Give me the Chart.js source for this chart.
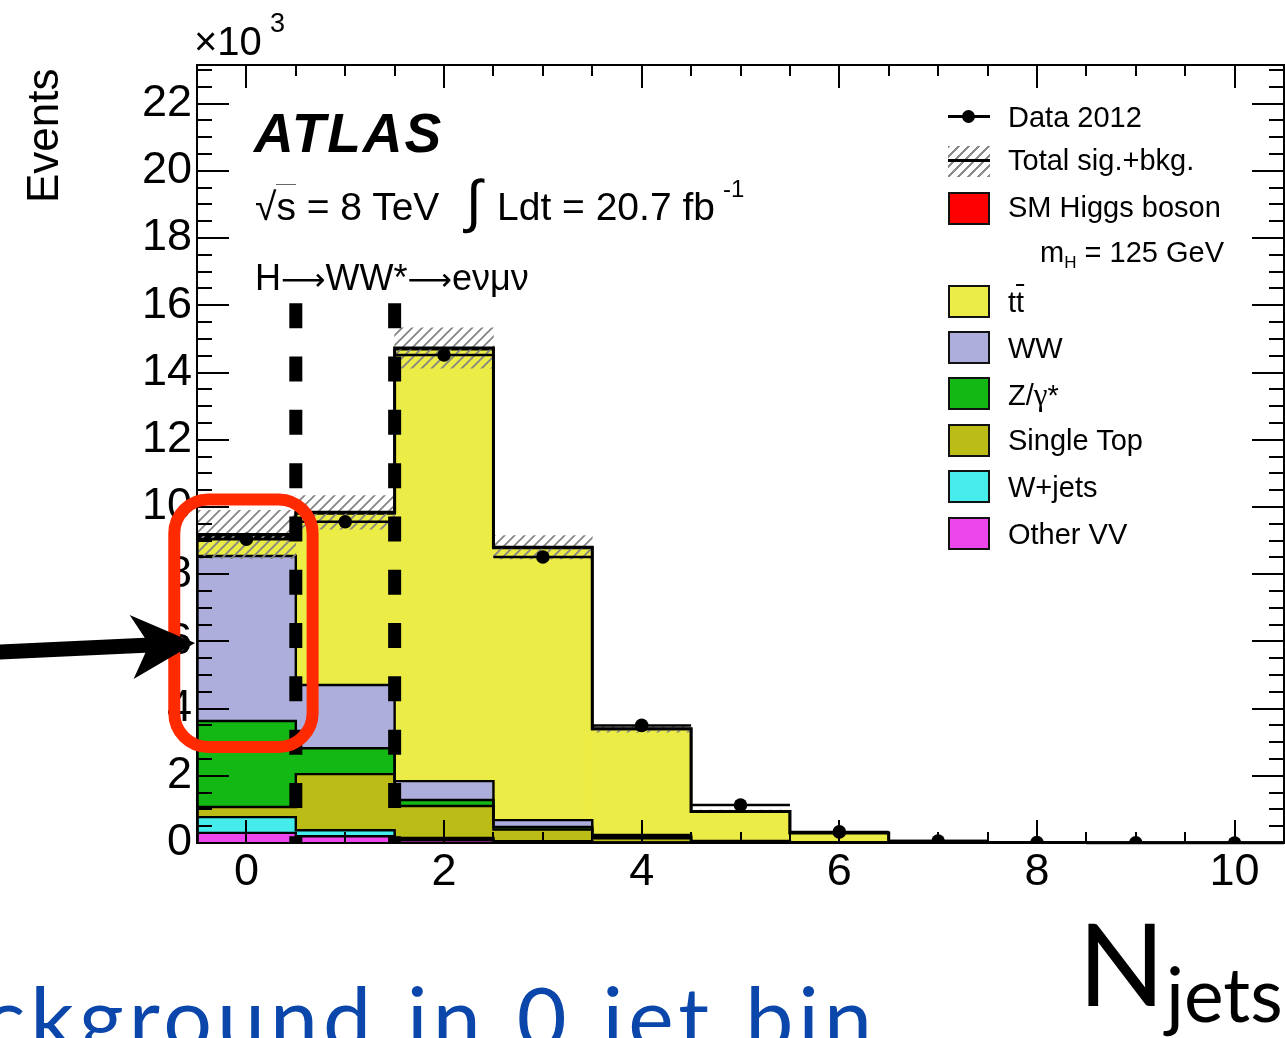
<!DOCTYPE html>
<html><head><meta charset="utf-8">
<script src="https://cdn.jsdelivr.net/npm/chart.js@4.4.1/dist/chart.umd.min.js"></script>
<style>
html,body{margin:0;padding:0;background:#fff;}
#wrap{position:relative;width:1285px;height:1038px;overflow:hidden;background:#fff;}
#c{position:absolute;left:0;top:0;}
.t{position:absolute;font-family:"Liberation Sans",Arial,Helvetica,sans-serif;color:#000;white-space:nowrap;line-height:1;}
.sw{position:absolute;box-sizing:border-box;border:2px solid #111;width:42px;height:33px;left:948px;}
.g{position:absolute;font-family:Lato,"Open Sans",sans-serif;white-space:nowrap;line-height:1;}
.ar{font-family:"DejaVu Sans",sans-serif;font-size:31px;}
</style></head><body>
<div id="wrap">
<canvas id="c" width="1285" height="1038"></canvas>

<div class="t" style="left:194px;top:21px;font-size:40px;">×10</div>
<div class="t" style="left:270px;top:10px;font-size:27px;">3</div>
<div class="t" style="left:21px;top:203px;font-size:44px;transform-origin:0 0;transform:rotate(-90deg);">Events</div>

<div class="t" style="left:254px;top:106px;font-size:55px;font-weight:bold;font-style:italic;letter-spacing:2px;">ATLAS</div>
<div class="t" style="left:255px;top:187px;font-size:39px;">√<span style="border-top:1.5px solid #666;">s</span> = 8 TeV</div>
<div class="t" style="left:466px;top:172px;font-size:58px;">∫</div>
<div class="t" style="left:497px;top:187px;font-size:39px;">Ldt = 20.7 fb</div>
<div class="t" style="left:723px;top:177px;font-size:24px;">-1</div>
<div class="t" style="left:255px;top:260px;font-size:36px;">H<span class="ar">⟶</span>WW*<span class="ar">⟶</span>eνμν</div>

<!-- legend -->
<div style="position:absolute;left:948px;top:115px;width:42px;height:3px;background:#000;"></div>
<div style="position:absolute;left:962px;top:110px;width:13px;height:13px;border-radius:50%;background:#000;"></div>
<div class="t" style="left:1008px;top:103px;font-size:29px;">Data 2012</div>
<div style="position:absolute;left:948px;top:146px;width:42px;height:31px;background:repeating-linear-gradient(135deg,#8a8a8a 0 2px,transparent 2px 7px);"></div>
<div style="position:absolute;left:948px;top:159px;width:42px;height:3px;background:#000;"></div>
<div class="t" style="left:1008px;top:146px;font-size:29px;">Total sig.+bkg.</div>
<div class="sw" style="top:192px;background:#ff0000;"></div>
<div class="t" style="left:1008px;top:193px;font-size:29px;">SM Higgs boson</div>
<div class="t" style="left:1040px;top:238px;font-size:29px;">m<sub style="font-size:17px;vertical-align:-6px;">H</sub> = 125 GeV</div>
<div class="sw" style="top:285px;background:#ecec46;"></div>
<div class="t" style="left:1008px;top:288px;font-size:29px;">t<span style="text-decoration:overline;">t</span></div>
<div class="sw" style="top:331px;background:#aeaedc;"></div>
<div class="t" style="left:1008px;top:334px;font-size:29px;">WW</div>
<div class="sw" style="top:377px;background:#14b814;"></div>
<div class="t" style="left:1008px;top:379px;font-size:29px;">Z/<span style="font-family:'Liberation Serif',serif;font-size:31px;">γ</span>*</div>
<div class="sw" style="top:424px;background:#bcbc16;"></div>
<div class="t" style="left:1008px;top:426px;font-size:29px;">Single Top</div>
<div class="sw" style="top:470px;background:#46ecec;"></div>
<div class="t" style="left:1008px;top:473px;font-size:29px;">W+jets</div>
<div class="sw" style="top:517px;background:#ec46ec;"></div>
<div class="t" style="left:1008px;top:520px;font-size:29px;">Other VV</div>

<!-- slide annotations -->
<div class="g" style="right:408px;top:973px;font-size:86px;color:#0b46aa;letter-spacing:5px;word-spacing:4px;">background in 0 jet bin</div>
<div class="g" style="left:1078px;top:905px;font-size:114px;color:#000;">N</div>
<div class="g" style="left:1166px;top:956px;font-size:75px;color:#000;">jets</div>
</div>

<script>
// Njets bins and axis ticks
const nJets = [0, 1, 2, 3, 4, 5, 6, 7, 8, 9, 10];
const xTickValues = [0, 2, 4, 6, 8, 10];
const yTickValues = [0, 2, 4, 6, 8, 10, 12, 14, 16, 18, 20, 22];
// Events, in units of 10^3
const dataObs   = [9.04, 9.56, 14.52, 8.51, 3.50, 1.13, 0.33, 0.06, 0.010, 0.003, 0.001];
const otherVV   = [0.30, 0.20, 0.08, 0.03, 0.01, 0.00, 0.00, 0, 0, 0, 0];
const wjets     = [0.47, 0.18, 0.07, 0.02, 0.01, 0.00, 0.00, 0, 0, 0, 0];
const singleTop = [0.30, 1.67, 0.95, 0.35, 0.12, 0.03, 0.01, 0, 0, 0, 0];
const zgamma    = [2.56, 0.77, 0.18, 0.08, 0.04, 0.01, 0.00, 0, 0, 0, 0];
const ww        = [4.91, 1.88, 0.56, 0.20, 0.06, 0.02, 0.01, 0, 0, 0, 0];
const ttbar     = [0.57, 5.10, 12.85, 8.10, 3.15, 0.88, 0.28, 0.05, 0.010, 0.002, 0.0005];
const higgs     = [0.07, 0.04, 0.04, 0.02, 0.01, 0.00, 0.00, 0, 0, 0, 0];
const totalUnc  = [0.72, 0.50, 0.60, 0.35, 0.10, 0.04, 0.02, 0.01, 0, 0, 0];

const FONT = '"Liberation Sans", Arial, Helvetica, sans-serif';

const components = [
  { label: 'Other VV', values: otherVV, color: '#ec46ec' },
  { label: 'W+jets', values: wjets, color: '#46ecec' },
  { label: 'Single Top', values: singleTop, color: '#bcbc16' },
  { label: 'Z/γ*', values: zgamma, color: '#14b814' },
  { label: 'WW', values: ww, color: '#aeaedc' },
  { label: 'tt̄', values: ttbar, color: '#ecec46' },
  { label: 'SM Higgs boson', values: higgs, color: '#ff0000' }
];

function stepPoints(top) {
  const pts = [{ x: nJets[0] - 0.5, y: 0 }];
  nJets.forEach((x, i) => pts.push({ x: x - 0.5, y: top[i] }));
  pts.push({ x: nJets[nJets.length - 1] + 0.5, y: top[top.length - 1] });
  return pts;
}

function hatchPattern() {
  const c = document.createElement('canvas');
  c.width = 10; c.height = 10;
  const g = c.getContext('2d');
  g.strokeStyle = '#858585'; g.lineWidth = 1.8;
  g.beginPath();
  g.moveTo(0, 10); g.lineTo(10, 0);
  g.moveTo(-5, 5); g.lineTo(5, -5);
  g.moveTo(5, 15); g.lineTo(15, 5);
  g.stroke();
  return document.getElementById('c').getContext('2d').createPattern(c, 'repeat');
}

const datasets = [];
let base = nJets.map(() => 0);
components.forEach((comp, ci) => {
  const top = base.map((b, i) => b + comp.values[i]);
  datasets.push({
    type: 'bar', label: comp.label,
    data: nJets.map((x, i) => ({ x: x, y: [base[i], top[i]] })),
    backgroundColor: comp.color, borderWidth: 0, grouped: false,
    barPercentage: 1, categoryPercentage: 1, order: 100
  });
  const isTotal = ci === components.length - 1;
  datasets.push({
    type: 'line', label: comp.label + ' outline',
    data: stepPoints(top), stepped: true,
    borderColor: '#000', borderWidth: isTotal ? 3 : 2.4,
    pointRadius: 0, fill: false, order: isTotal ? 40 : 60
  });
  base = top;
});
const total = base;
datasets.push({
  type: 'bar', label: 'Total sig.+bkg.',
  data: nJets.map((x, i) => ({ x: x, y: [total[i] - totalUnc[i], total[i] + totalUnc[i]] })),
  backgroundColor: hatchPattern(), borderWidth: 0, grouped: false,
  barPercentage: 1, categoryPercentage: 1, order: 50
});
datasets.push({
  type: 'scatter', label: 'Data 2012',
  data: nJets.map((x, i) => ({ x: x, y: dataObs[i] })),
  pointRadius: 6.8, pointBackgroundColor: '#000', pointBorderWidth: 0,
  showLine: false, order: 10
});

const axesPlugin = {
  id: 'axesPlugin',
  afterDatasetsDraw(chart) {
    const { ctx, chartArea: a, scales: { x, y } } = chart;
    ctx.save();
    // data horizontal bars (bin width)
    ctx.strokeStyle = '#000'; ctx.lineWidth = 2.5;
    nJets.forEach((v, i) => {
      const py = y.getPixelForValue(dataObs[i]);
      ctx.beginPath();
      ctx.moveTo(x.getPixelForValue(v - 0.5), py);
      ctx.lineTo(x.getPixelForValue(v + 0.5), py);
      ctx.stroke();
    });
    // frame
    ctx.lineWidth = 2;
    ctx.strokeRect(a.left, a.top, a.right - a.left, a.bottom - a.top);
    // inward ticks
    ctx.beginPath();
    for (let k = 0; k <= 22; k++) {
      const v = -0.5 + k * 0.5;
      const major = Math.abs(v % 2) < 1e-9;
      const len = major ? 23 : 11;
      const px = Math.round(x.getPixelForValue(v));
      ctx.moveTo(px, a.bottom); ctx.lineTo(px, a.bottom - len);
      ctx.moveTo(px, a.top); ctx.lineTo(px, a.top + len);
    }
    for (let k = 0; k <= 46; k++) {
      const v = k * 0.5;
      if (v > y.max) break;
      const major = Math.abs(v % 2) < 1e-9;
      const len = major ? 32 : 15;
      const py = Math.round(y.getPixelForValue(v));
      ctx.moveTo(a.left, py); ctx.lineTo(a.left + len, py);
      ctx.moveTo(a.right, py); ctx.lineTo(a.right - len, py);
    }
    ctx.stroke();
    ctx.restore();
  },
  afterDraw(chart) {
    const { ctx, chartArea: a, scales: { x, y } } = chart;
    ctx.save();
    // dashed vertical lines at the 0/1 and 1/2 jet bin edges
    ctx.strokeStyle = '#000'; ctx.lineWidth = 13; ctx.lineCap = 'butt';
    ctx.setLineDash([25, 28.3]);
    [0.5, 1.5].forEach(v => {
      const px = x.getPixelForValue(v);
      ctx.beginPath();
      ctx.moveTo(px, y.getPixelForValue(16.06));
      ctx.lineTo(px, a.bottom);
      ctx.stroke();
    });
    ctx.setLineDash([]);
    // red rounded box around the 0-jet bin
    const l = x.getPixelForValue(-0.73), r = x.getPixelForValue(0.67);
    const t = y.getPixelForValue(10.22), b = y.getPixelForValue(2.86);
    ctx.strokeStyle = '#ff2a00'; ctx.lineWidth = 12;
    ctx.beginPath();
    ctx.roundRect(l, t, r - l, b - t, 34);
    ctx.stroke();
    // arrow pointing at the WW component
    const tipX = x.getPixelForValue(-0.52), tipY = y.getPixelForValue(5.95);
    const ang = Math.atan2(-9, 195);
    ctx.translate(tipX, tipY); ctx.rotate(ang);
    ctx.fillStyle = '#000';
    ctx.beginPath();
    ctx.moveTo(0, 0);
    ctx.lineTo(-64, -31);
    ctx.lineTo(-50, -7.5);
    ctx.lineTo(-220, -7.5);
    ctx.lineTo(-220, 7.5);
    ctx.lineTo(-50, 7.5);
    ctx.lineTo(-63, 33);
    ctx.closePath();
    ctx.fill();
    ctx.restore();
  }
};

new Chart(document.getElementById('c'), {
  type: 'bar',
  data: { datasets },
  options: {
    responsive: false, animation: false, devicePixelRatio: 1,
    layout: { autoPadding: false, padding: { top: 65, right: 1, left: 0, bottom: 0 } },
    plugins: { legend: { display: false }, tooltip: { enabled: false } },
    scales: {
      x: {
        type: 'linear', min: -0.5, max: 10.5, offset: false,
        grid: { display: false, drawTicks: false }, border: { display: false },
        ticks: { font: { family: FONT, size: 45 }, color: '#000', padding: 3, maxRotation: 0, autoSkip: false },
        afterBuildTicks: s => { s.ticks = xTickValues.map(v => ({ value: v })); },
        afterFit: s => { s.height = 1038 - 843; s.paddingLeft = 0; s.paddingRight = 0; }
      },
      y: {
        type: 'linear', min: 0, max: 23.15,
        grid: { display: false, drawTicks: false }, border: { display: false },
        ticks: { font: { family: FONT, size: 45 }, color: '#000', padding: 5 },
        afterBuildTicks: s => { s.ticks = yTickValues.map(v => ({ value: v })); },
        afterFit: s => { s.width = 197; s.paddingTop = 0; s.paddingBottom = 0; }
      }
    }
  },
  plugins: [axesPlugin]
});
</script>
</body></html>
